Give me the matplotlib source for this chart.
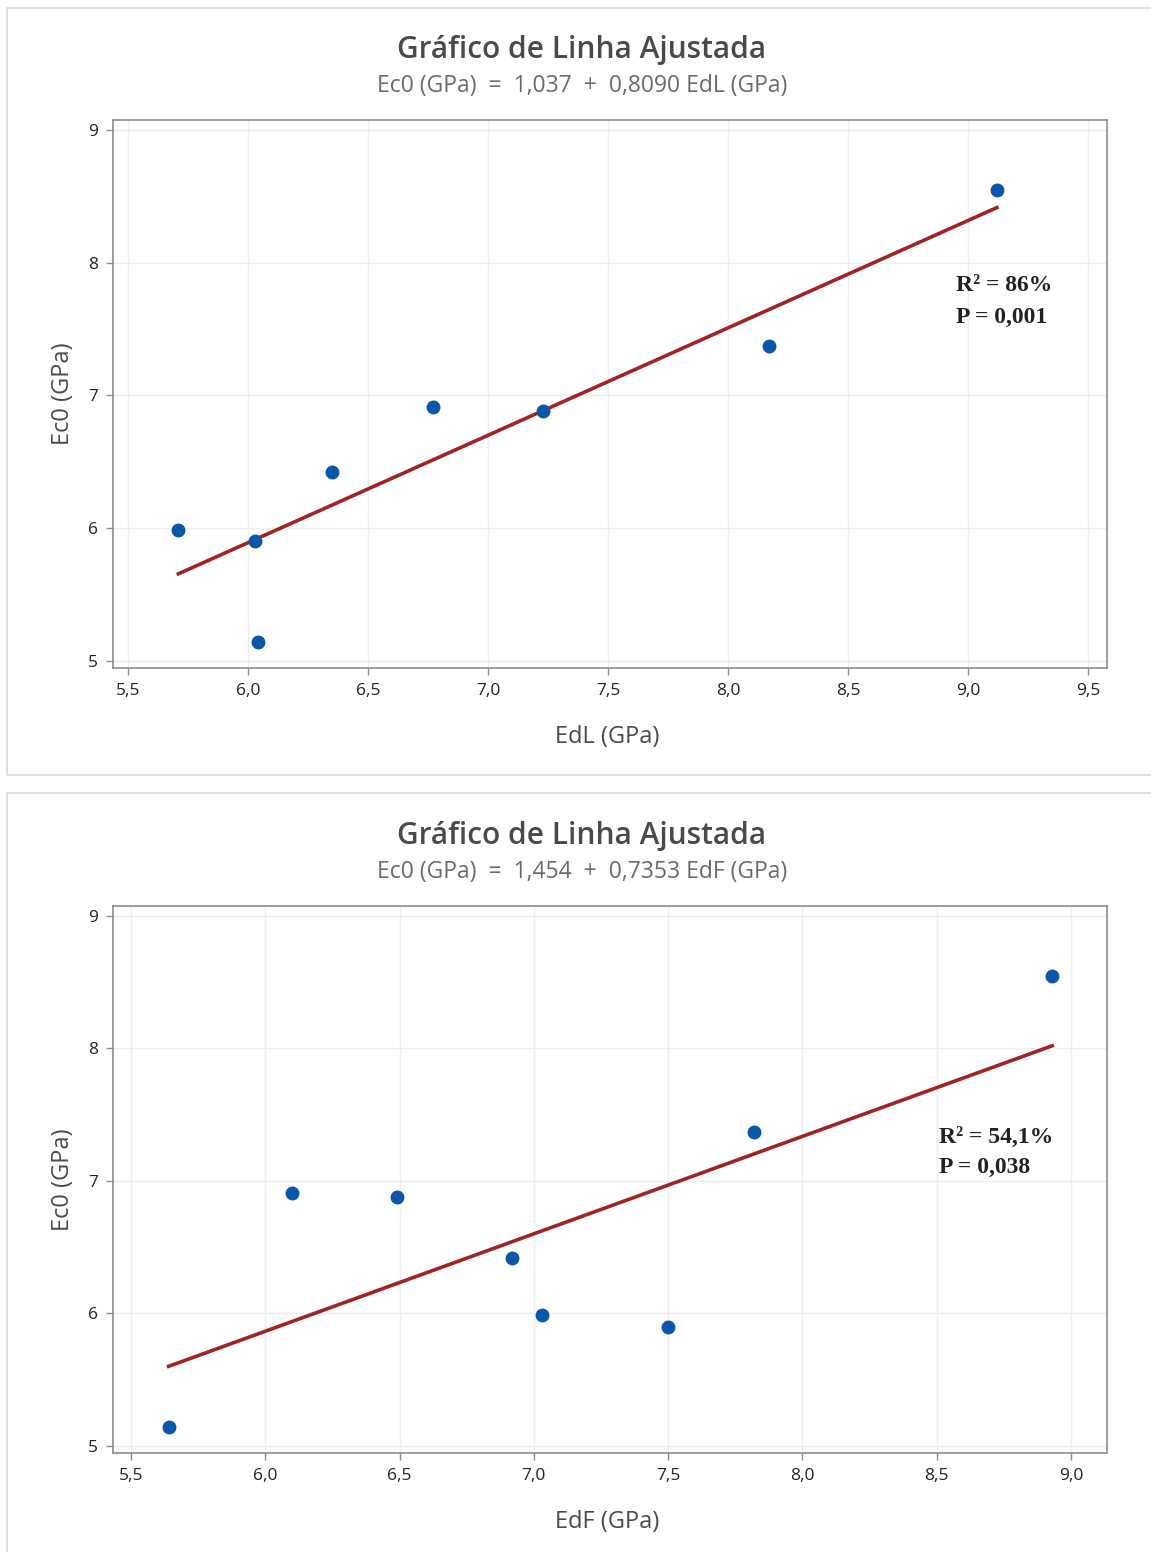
import numpy as np
import matplotlib.pyplot as plt
from matplotlib.patches import Rectangle

# dados
ec0 = [5.99, 5.90, 5.14, 6.42, 6.91, 6.88, 7.37, 8.55]
edl = [5.71, 6.03, 6.04, 6.35, 6.77, 7.23, 8.17, 9.12]
ec0_f = [5.14, 6.91, 6.88, 6.42, 5.99, 5.90, 7.37, 8.55]
edf = [5.64, 6.10, 6.49, 6.92, 7.03, 7.50, 7.82, 8.93]

interceptos = [1.037, 1.454]
inclinacoes = [0.8090, 0.7353]
subtitulos = ["Ec0 (GPa)  =  1,037  +  0,8090 EdL (GPa)",
              "Ec0 (GPa)  =  1,454  +  0,7353 EdF (GPa)"]
xlabels = ["EdL (GPa)", "EdF (GPa)"]
anotacoes = [["R\u00b2 = 86%", "P = 0,001"], ["R\u00b2 = 54,1%", "P = 0,038"]]
ticks_x = [[5.5, 6.0, 6.5, 7.0, 7.5, 8.0, 8.5, 9.0, 9.5],
           [5.5, 6.0, 6.5, 7.0, 7.5, 8.0, 8.5, 9.0]]
ticks_y = [5, 6, 7, 8, 9]

W, H = 1151, 1552
fig = plt.figure(figsize=(W / 100, H / 100), dpi=100)
plt.rcParams['font.family'] = ['Open Sans', 'DejaVu Sans']

# molduras dos paineis
fig.patches.append(Rectangle((7 / W, 1 - 775 / H), 1150 / W, 767 / H, transform=fig.transFigure,
                             fill=False, edgecolor='#dddddd', lw=1.5))
fig.patches.append(Rectangle((7 / W, 1 - 1560 / H), 1150 / W, 767 / H, transform=fig.transFigure,
                             fill=False, edgecolor='#dddddd', lw=1.5))

paineis = [
    dict(x=edl, y=ec0, rect=[113 / W, 1 - 668 / H, 994 / W, 548 / H], xlim=(5.4375, 9.579),
         ty=1 - 50 / H, sy=1 - 86 / H, xly=1 - 737 / H, ann=(8.95, 7.83, 7.59)),
    dict(x=edf, y=ec0_f, rect=[113 / W, 1 - 1453 / H, 994 / W, 547 / H], xlim=(5.433, 9.134),
         ty=1 - 836 / H, sy=1 - 872 / H, xly=1 - 1522 / H, ann=(8.51, 7.33, 7.10)),
]

for i, p in enumerate(paineis):
    ax = fig.add_axes(p['rect'])
    ax.set_xlim(*p['xlim'])
    ax.set_ylim(4.947, 9.075)
    ax.set_xticks(ticks_x[i])
    ax.set_xticklabels([f"{t:.1f}".replace('.', ',') for t in ticks_x[i]])
    ax.set_yticks(ticks_y)
    ax.grid(True, color='#eeeeee', lw=1)
    ax.set_axisbelow(True)
    for s in ax.spines.values():
        s.set_color('#8c8c8c')
        s.set_linewidth(1.2)
    ax.tick_params(colors='#8c8c8c', labelcolor='#222222', labelsize=12.5, length=5, width=1, pad=6)

    xs = np.array([min(p['x']), max(p['x'])])
    ax.plot(xs, interceptos[i] + inclinacoes[i] * xs, color='#a02424', lw=2.6, zorder=2)
    ax.plot(p['x'], p['y'], 'o', color='#0a56a8', ms=9, zorder=3)

    ax_, l1, l2 = p['ann']
    ax.text(ax_, l1, anotacoes[i][0], family=['Liberation Serif'], fontweight='bold',
            fontsize=17, color='#222222', va='center')
    ax.text(ax_, l2, anotacoes[i][1], family=['Liberation Serif'], fontweight='bold',
            fontsize=17, color='#222222', va='center')

    fig.text(582 / W, p['ty'], "Gráfico de Linha Ajustada", ha='center', va='center',
             fontsize=21.5, fontweight='semibold', color='#4a4a4a')
    fig.text(582 / W, p['sy'], subtitulos[i], ha='center', va='center',
             fontsize=16.5, color='#6a6a6a')
    fig.text(607 / W, p['xly'], xlabels[i], ha='center', va='center',
             fontsize=17, color='#4a4a4a')
    fig.text(63 / W, p['rect'][1] + p['rect'][3] / 2, "Ec0 (GPa)", ha='center', va='center',
             rotation=90, fontsize=17, color='#4a4a4a')

fig.savefig('out.png', dpi=100)
